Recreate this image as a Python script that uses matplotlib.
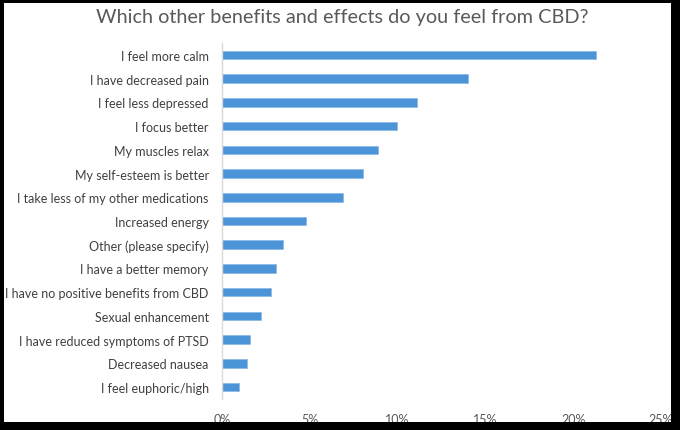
import matplotlib.pyplot as plt
from matplotlib.patches import Rectangle
from matplotlib.ticker import FuncFormatter

# answers, top to bottom as shown
categories = [
    "I feel more calm",
    "I have decreased pain",
    "I feel less depressed",
    "I focus better",
    "My muscles relax",
    "My self-esteem is better",
    "I take less of my other medications",
    "Increased energy",
    "Other (please specify)",
    "I have a better memory",
    "I have no positive benefits from CBD",
    "Sexual enhancement",
    "I have reduced symptoms of PTSD",
    "Decreased nausea",
    "I feel euphoric/high",
]
shares = [21.3, 14.0, 11.1, 9.95, 8.9, 8.05, 6.9, 4.8, 3.5, 3.05, 2.8, 2.2, 1.6, 1.4, 0.95]
xticks = [0, 5, 10, 15, 20, 25]

plt.rcParams["font.family"] = ["Lato", "DejaVu Sans"]

fig = plt.figure(figsize=(6.8, 4.31), dpi=100, facecolor="black")
W, H = 680, 431


def px_rect(x, y, w, h, color, z):
    # rectangle given in pixels from the top-left corner
    return Rectangle((x / W, 1 - (y + h) / H), w / W, h / H, transform=fig.transFigure,
                     facecolor=color, edgecolor="none", zorder=z)


# white screen area inside the black frame
fig.patches.append(px_rect(4, 4, 667, 419, "white", -1))

ax = fig.add_axes([222 / W, 31 / H, 439 / W, 356 / H])
ax.set_facecolor("none")

ypos = list(range(len(categories)))
ax.barh(ypos, shares, height=0.36, color="#4C94D8", edgecolor="#7FB4E6", linewidth=0.4)
ax.set_ylim(len(categories) - 0.5, -0.5)
ax.set_xlim(0, 25)
ax.set_yticks(ypos)
ax.set_yticklabels(categories, fontsize=9.0, color="#404040")
ax.set_xticks(xticks)
ax.xaxis.set_major_formatter(FuncFormatter(lambda v, p: f"{v:.0f}%"))
ax.tick_params(axis="x", labelsize=9.0, labelcolor="#595959", length=0, pad=10)
ax.tick_params(axis="y", length=0, pad=9.5)

for s in ["top", "right", "bottom"]:
    ax.spines[s].set_visible(False)
ax.spines["left"].set_color("#D9D9D9")
ax.spines["left"].set_linewidth(1.0)

fig.text(342 / W, 1 - 17 / H, "Which other benefits and effects do you feel from CBD?",
         ha="center", va="center", fontsize=14.3, color="#595959")

# black frame drawn over everything so edge text is clipped like the screenshot
fig.patches.append(px_rect(0, 0, 4, H, "black", 10))
fig.patches.append(px_rect(0, 0, W, 4, "black", 10))
fig.patches.append(px_rect(671, 0, 9, H, "black", 10))
fig.patches.append(px_rect(0, 423, W, 8, "black", 10))

fig.savefig("out.png", dpi=100, facecolor="black")
